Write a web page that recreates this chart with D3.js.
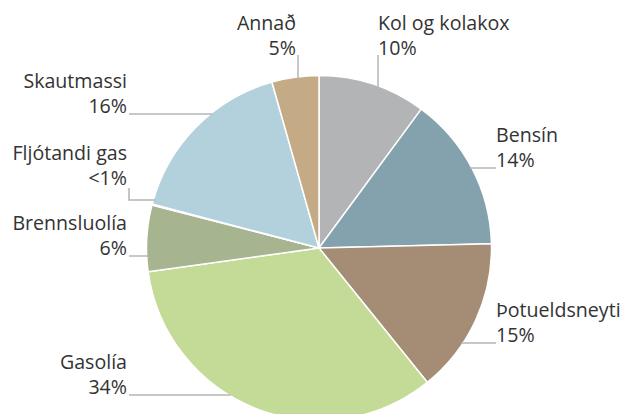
<!DOCTYPE html>
<html>
<head>
<meta charset="utf-8">
<script src="https://cdn.jsdelivr.net/npm/d3@7"></script>
<style>
  body { margin: 0; background: #fff; }
  svg text { font-family: "Open Sans", sans-serif; font-size: 19.6px; fill: #333; }
</style>
</head>
<body>
<svg id="chart" width="626" height="414"></svg>
<script>
'use strict';

// clockwise from 12 o'clock
const categories = ['Kol og kolakox', 'Bensín', 'Þotueldsneyti', 'Gasolía', 'Brennsluolía', 'Fljótandi gas', 'Skautmassi', 'Annað'];
const shares = [10.1, 14.5, 14.6, 33.6, 6.2, 0.1, 16.5, 4.4];
const shareLabels = ['10%', '14%', '15%', '34%', '6%', '<1%', '16%', '5%'];
const colors = ['#b3b4b5', '#84a1ae', '#a58c74', '#c4db98', '#a6b490', '#ffffff', '#b3d0dd', '#c4ab85'];

// label placement: anchor point of the text block, and how the leader runs
const labelLayout = [
  { x: 378, y: 30, anchor: 'start', leader: 'up' },
  { x: 496, y: 142, anchor: 'start', leader: 'left' },
  { x: 496, y: 317, anchor: 'start', leader: 'left' },
  { x: 127, y: 369, anchor: 'end', leader: 'right' },
  { x: 127, y: 230, anchor: 'end', leader: 'right' },
  { x: 127, y: 160, anchor: 'end', leader: 'elbow' },
  { x: 127, y: 88, anchor: 'end', leader: 'right' },
  { x: 296, y: 30, anchor: 'end', leader: 'up' },
];

const cx = 319, cy = 248, r = 172.5;
const svg = d3.select('#chart');

const pie = d3.pie().sort(null).value(d => d)(shares);
const arc = d3.arc().innerRadius(0).outerRadius(r);

const g = svg.append('g').attr('transform', `translate(${cx},${cy})`);

// leader lines first so the pie sits on top of their ends
const leaders = svg.append('g')
  .attr('fill', 'none')
  .attr('stroke', '#b4b4b4')
  .attr('stroke-width', 1.5);

function edgeX(y, side) {
  const dy = y - cy;
  return cx + side * Math.sqrt(Math.max(r * r - dy * dy, 0)) - side * 2;
}

labelLayout.forEach((lab, i) => {
  const lineY = lab.y + 26;
  let pts;
  if (lab.leader === 'left') {
    pts = [[lab.x, lineY], [edgeX(lineY, 1), lineY]];
  } else if (lab.leader === 'right') {
    pts = [[lab.x + 2, lineY], [edgeX(lineY, -1), lineY]];
  } else if (lab.leader === 'elbow') {
    const y2 = lineY + 14;
    pts = [[lab.x + 2, lineY + 2], [lab.x + 2, y2], [edgeX(y2, -1), y2]];
  } else {
    const lx = lab.anchor === 'end' ? lab.x + 2 : lab.x;
    const dx = lx - cx;
    pts = [[lx, lab.y + 25], [lx, cy - Math.sqrt(r * r - dx * dx) + 2]];
  }
  leaders.append('path').attr('d', d3.line()(pts));
});

g.selectAll('path')
  .data(pie)
  .enter()
  .append('path')
  .attr('d', arc)
  .attr('fill', (d, i) => colors[i])
  .attr('stroke', '#fff')
  .attr('stroke-width', 1.5)
  .attr('stroke-linejoin', 'round');

const labels = svg.append('g');
labelLayout.forEach((lab, i) => {
  const t = labels.append('text')
    .attr('x', lab.x)
    .attr('y', lab.y)
    .attr('text-anchor', lab.anchor);
  t.append('tspan').attr('x', lab.x).text(categories[i]);
  t.append('tspan').attr('x', lab.x).attr('dy', 25).text(shareLabels[i]);
});
</script>
</body>
</html>
